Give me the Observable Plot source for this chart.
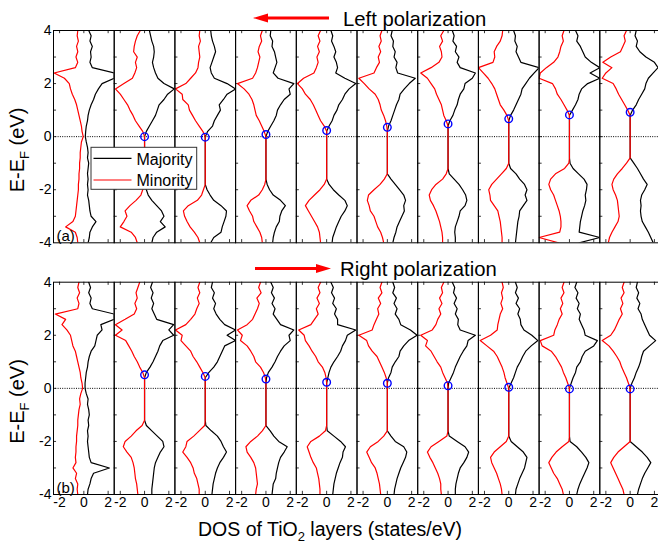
<!DOCTYPE html>
<html><head><meta charset="utf-8">
<script src="https://cdn.jsdelivr.net/npm/d3@7"></script>
<script src="https://cdn.jsdelivr.net/npm/@observablehq/plot@0.6"></script>
<style>
html,body{margin:0;padding:0;background:#fff;}
#chart{position:relative;width:658px;height:544px;overflow:hidden;}
</style></head><body><div id="chart"></div>
<script>
// Energy grid (eV, E - E_F), shared by every DOS curve, top to bottom
const energy = [4,3.8,3.6,3.4,3.2,3,2.8,2.6,2.4,2.2,2,1.8,1.6,1.4,1.2,1,0.8,0.6,0.4,0.2,0,-0.2,-0.4,-0.6,-0.8,-1,-1.2,-1.4,-1.6,-1.8,-2,-2.2,-2.4,-2.6,-2.8,-3,-3.2,-3.4,-3.6,-3.8,-4];
const layers = [1,2,3,4,5,6,7,8,9,10];
const panels = ["a","b"];
const panelTags = ["(a)","(b)"];
const panelTitles = ["Left polarization","Right polarization"];
const xTicks = [-2,0,2];
const yTicks = [-4,-2,0,2,4];
const yMinor = [-3,-2,-1,0,1,2,3];

// (a) Left polarization: majority (positive) DOS per TiO2 layer
const majorityA = [
 [0.4,0.6,0.5,0.7,0.55,0.6,0.5,0.7,2.5,2.5,1.5,1.2,0.95,0.8,0.6,0.45,0.35,0.3,0.2,0.15,0.12, 0.2,0.3,0.35,0.3,0.4,0.35,0.3,0.35,0.3,0.35,0.3,0.4,0.45,0.5,0.6,1.0,0.7,0.5,0.45,0.35],
 [0.4,0.5,0.6,0.75,0.8,0.75,0.65,0.75,0.9,1.1,1.6,2.45,1.9,1.6,1.2,1.05,0.9,0.65,0.4,0.15,0, 0,0,0,0,0,0,0,0,0,0.15,0.3,0.6,1.0,1.4,1.6,1.3,1.7,1.0,0.7,0.6],
 [0.45,0.5,0.6,0.75,0.85,0.7,0.55,0.4,0.5,0.75,1.8,2.5,1.8,1.5,1.15,1.25,1.0,0.75,0.6,0.2,0, 0,0,0,0,0,0,0,0,0,0.15,0.4,0.7,1.3,1.75,1.7,1.55,1.4,1.3,0.7,0.45],
 [0.4,0.35,0.55,0.5,0.7,0.8,0.9,0.75,0.6,1.0,2.3,1.9,2.0,1.5,1.2,0.95,0.85,0.65,0.4,0.15,0, 0,0,0,0,0,0,0,0,0.1,0.3,0.6,1.2,1.6,1.3,1.15,1.1,0.85,0.7,0.6,0.55],
 [0.35,0.5,0.4,0.6,0.75,0.6,0.8,0.9,0.75,1.5,2.4,1.85,1.5,1.3,1.0,0.85,0.6,0.45,0.2,0,0, 0,0,0,0,0,0,0,0,0.2,0.55,1.0,1.5,1.7,1.5,1.2,1.0,0.8,0.65,0.5,0.45],
 [0.4,0.3,0.5,0.45,0.65,0.55,0.8,0.7,0.85,2.3,1.8,1.4,1.05,0.95,0.75,0.6,0.45,0.3,0.1,0,0, 0,0,0,0,0,0,0,0.3,0.65,1.0,1.35,1.5,1.35,1.4,1.2,1.0,0.8,0.7,0.55,0.45],
 [0.35,0.5,0.4,0.7,0.6,0.9,0.75,1.0,2.25,2.0,1.4,1.3,1.0,0.85,0.75,0.55,0.4,0.15,0,0,0, 0,0,0,0,0,0,0.1,0.5,0.9,1.2,1.45,1.55,1.4,1.0,0.9,0.75,0.6,0.55,0.6,0.6],
 [0.4,0.55,0.5,0.7,0.6,0.8,1.0,2.5,2.1,1.7,1.4,1.1,1.0,0.8,0.6,0.4,0.15,0,0,0,0, 0,0,0,0,0,0.15,0.6,0.9,1.3,1.5,1.35,1.5,1.2,0.9,0.85,0.75,0.7,0.65,0.6,0.55],
 [0.5,0.7,0.6,0.9,1.1,1.3,1.8,2.5,1.7,2.5,1.5,1.0,0.8,0.7,0.5,0.25,0,0,0,0,0, 0,0,0,0,0.05,0.3,0.75,1.2,1.45,1.4,1.3,1.35,1.25,1.1,1.0,0.9,0.85,0.8,2.5,0.8],
 [0.5,0.4,0.6,0.5,0.8,1.3,2.0,2.3,1.9,1.5,1.3,1.2,0.95,0.7,0.5,0.2,0,0,0,0,0, 0,0,0,0,0.3,0.6,0.85,1.1,1.4,1.2,0.95,0.85,0.9,0.85,0.9,1.0,1.25,1.5,1.7,1.9]
];
// (a) minority (negative) DOS
const minorityA = [
 [-0.5,-0.55,-0.45,-0.6,-0.5,-0.65,-0.5,-0.7,-2.45,-1.6,-1.2,-1.1,-0.95,-0.75,-0.6,-0.5,-0.4,-0.3,-0.2,-0.15,-0.05, -0.2,-0.25,-0.3,-0.3,-0.35,-0.35,-0.4,-0.4,-0.45,-0.45,-0.5,-0.55,-0.6,-0.65,-0.7,-0.9,-1.5,-0.7,-0.55,-0.5],
 [-0.35,-0.6,-0.75,-0.85,-0.9,-0.6,-0.75,-0.65,-0.8,-1.0,-1.7,-2.4,-2.0,-1.7,-1.4,-1.2,-0.95,-0.75,-0.45,-0.15,0, 0,0,0,0,0,0,0,0,0,-0.15,-0.3,-0.7,-1.2,-1.6,-1.45,-1.7,-2.0,-1.1,-0.75,-0.6],
 [-0.45,-0.5,-0.4,-0.55,-0.5,-0.45,-0.55,-0.6,-0.8,-1.2,-1.6,-2.45,-1.9,-1.85,-1.4,-1.3,-1.05,-0.8,-0.5,-0.2,0, 0,0,0,0,0,0,0,0,0,-0.15,-0.3,-0.65,-1.4,-1.8,-1.7,-1.5,-1.25,-0.9,-0.6,-0.45],
 [-0.3,-0.45,-0.35,-0.55,-0.65,-0.5,-0.6,-0.7,-0.85,-1.1,-2.35,-1.8,-1.4,-1.15,-1.0,-0.9,-0.8,-0.55,-0.35,-0.15,0, 0,0,0,0,0,0,0,0,-0.1,-0.3,-0.6,-1.25,-1.55,-1.35,-1.1,-1.0,-0.75,-0.5,-0.35,-0.3],
 [-0.5,-0.7,-0.55,-0.75,-0.6,-0.8,-0.7,-0.85,-1.05,-1.9,-2.4,-2.0,-1.75,-1.35,-1.1,-0.9,-0.7,-0.5,-0.2,0,0, 0,0,0,0,0,0,0,0,-0.2,-0.55,-1.0,-1.45,-1.75,-1.5,-1.25,-1.0,-0.75,-0.6,-0.55,-0.5],
 [-0.45,-0.6,-0.5,-0.7,-0.55,-0.75,-0.65,-0.9,-1.1,-2.35,-1.9,-1.5,-1.0,-0.75,-0.6,-0.5,-0.3,-0.15,-0.05,0,0, 0,0,0,0,0,0,0,-0.25,-0.6,-1.1,-1.55,-1.65,-1.5,-1.4,-1.1,-0.95,-0.8,-0.55,-0.4,-0.3],
 [-0.35,-0.6,-0.45,-0.7,-0.55,-0.5,-0.75,-1.4,-2.25,-1.7,-1.4,-1.1,-0.95,-0.75,-0.55,-0.45,-0.35,-0.15,0,0,0, 0,0,0,0,0,0,-0.15,-0.45,-1.0,-1.35,-1.55,-1.45,-1.2,-1.0,-0.85,-0.7,-0.6,-0.5,-0.45,-0.45],
 [-0.5,-0.55,-0.7,-1.0,-1.2,-1.15,-1.3,-2.5,-2.1,-1.7,-1.4,-1.15,-1.0,-0.85,-0.7,-0.4,-0.15,0,0,0,0, 0,0,0,0,0,-0.2,-0.6,-1.0,-1.4,-1.65,-1.55,-1.5,-1.2,-0.9,-0.8,-0.7,-0.65,-0.6,-0.55,-0.55],
 [-0.45,-0.6,-0.5,-0.7,-0.8,-0.95,-1.3,-1.9,-2.4,-2.5,-1.4,-1.15,-1.0,-0.7,-0.45,-0.2,0,0,0,0,0, 0,0,0,0,-0.05,-0.4,-1.15,-1.55,-1.7,-1.55,-1.3,-1.15,-1.0,-0.85,-0.75,-0.7,-0.7,-0.8,-2.5,-0.9],
 [-0.3,-0.5,-0.4,-0.6,-0.8,-1.6,-2.25,-1.5,-2.0,-2.3,-1.4,-1.15,-0.95,-0.7,-0.45,-0.2,0,0,0,0,0, 0,0,0,0,-0.3,-0.65,-1.05,-1.35,-1.5,-1.4,-1.2,-1.05,-1.0,-0.95,-0.9,-1.0,-1.25,-1.5,-1.7,-1.8]
];
// (b) Right polarization: majority DOS
const majorityB = [
 [0.4,0.55,0.4,0.6,0.5,0.7,2.5,2.5,1.4,1.5,1.1,1.0,0.9,0.6,0.45,0.35,0.3,0.2,0.15,0.1,0.1, 0.2,0.35,0.3,0.4,0.45,0.35,0.4,0.3,0.35,0.3,0.35,0.4,0.45,0.6,2.1,0.8,0.6,0.5,0.35,0.3],
 [0.65,0.5,0.7,0.55,0.75,0.6,0.8,1.0,2.4,2.0,2.4,1.5,1.25,1.1,0.9,0.7,0.45,0.15,0,0,0, 0,0,0,0,0,0,0.15,0.6,1.05,1.5,1.6,1.3,1.1,0.9,0.8,0.75,0.7,0.65,0.6,0.6],
 [0.6,0.5,0.75,0.6,0.85,0.7,0.9,1.2,1.6,2.5,1.8,2.5,1.6,1.4,1.2,1.0,0.7,0.3,0,0,0, 0,0,0,0,0,0,0.05,0.5,1.0,1.3,1.5,1.75,1.5,1.2,1.0,0.85,0.75,0.65,0.6,0.55],
 [0.4,0.6,0.45,0.7,0.5,0.75,0.6,0.9,1.2,2.3,1.9,2.0,1.5,1.2,0.95,0.75,0.5,0.2,0.05,0,0, 0,0,0,0,0,0,0,0.35,0.65,1.05,1.75,1.5,1.2,1.05,0.95,0.85,0.8,0.6,0.55,0.5],
 [0.35,0.55,0.4,0.65,0.5,0.8,0.65,0.9,0.9,2.4,1.7,1.55,1.3,1.15,0.9,0.6,0.35,0.2,0.1,0,0, 0,0,0,0,0,0,0,0.05,0.6,1.15,1.55,1.35,1.3,1.1,0.95,0.8,0.7,0.6,0.55,0.5],
 [0.45,0.6,0.45,0.75,0.55,0.8,0.65,0.95,1.1,1.9,2.45,1.75,1.35,1.05,0.95,0.65,0.4,0.3,0.1,0,0, 0,0,0,0,0,0,0,0,0.3,0.65,1.35,1.6,1.5,1.3,1.1,0.95,0.8,0.7,0.6,0.55],
 [0.35,0.55,0.45,0.7,0.5,0.75,0.6,0.85,0.8,1.0,2.25,1.65,1.55,1.25,1.0,0.8,0.6,0.45,0.25,0.05,0, 0,0,0,0,0,0,0,0,0.1,0.75,1.4,1.7,1.55,1.3,1.0,0.85,0.75,0.65,0.6,0.6],
 [0.55,0.7,0.55,0.8,0.6,0.9,0.75,0.95,1.0,1.25,1.9,2.4,1.85,1.4,1.15,0.95,0.7,0.55,0.4,0.2,0, 0,0,0,0,0,0,0,0,0,0.2,0.7,1.2,1.5,1.4,1.3,1.1,0.9,0.75,0.6,0.55],
 [0.6,0.45,0.7,0.55,0.8,0.65,0.9,0.8,1.0,1.2,1.3,2.3,2.0,1.3,1.05,0.9,0.6,0.5,0.3,0.15,0, 0,0,0,0,0,0,0,0,0,0.05,0.6,1.0,1.35,1.6,1.45,1.25,1.05,0.85,0.7,0.6],
 [0.6,0.5,0.7,0.55,0.8,0.65,0.9,1.0,1.2,1.4,1.6,2.1,1.6,1.1,0.95,0.85,0.7,0.5,0.35,0.15,0, 0,0,0,0,0,0,0,0,0,0,0.5,1.0,1.4,1.7,1.45,1.2,1.0,0.85,0.7,0.6]
];
// (b) minority DOS
const minorityB = [
 [-0.4,-0.5,-0.35,-0.55,-0.4,-0.5,-2.35,-1.5,-1.8,-1.4,-1.1,-1.0,-0.9,-0.7,-0.6,-0.5,-0.4,-0.3,-0.25,-0.15,-0.1, -0.25,-0.35,-0.3,-0.4,-0.45,-0.5,-0.5,-0.55,-0.6,-0.6,-0.65,-0.65,-0.7,-0.65,-0.9,-0.6,-0.7,-0.5,-0.55,-0.5],
 [-0.4,-0.55,-0.7,-0.6,-0.8,-0.65,-0.85,-1.6,-2.4,-1.85,-2.4,-1.55,-1.3,-1.05,-0.85,-0.6,-0.4,-0.15,0,0,0, 0,0,0,0,0,0,-0.2,-0.7,-1.1,-1.6,-1.75,-1.45,-1.1,-0.95,-0.85,-0.8,-0.75,-0.65,-0.6,-0.55],
 [-0.45,-0.6,-0.45,-0.65,-0.5,-0.7,-0.85,-1.2,-1.6,-2.45,-1.9,-2.0,-1.6,-1.2,-1.0,-0.7,-0.45,-0.2,0,0,0, 0,0,0,0,0,0,-0.05,-0.5,-0.95,-1.5,-1.6,-1.85,-1.5,-1.2,-1.0,-0.9,-0.7,-0.6,-0.5,-0.5],
 [-0.45,-0.6,-0.4,-0.75,-0.55,-0.7,-0.9,-1.1,-1.55,-2.35,-1.95,-2.1,-1.55,-1.25,-1.0,-0.85,-0.45,-0.2,-0.05,0,0, 0,0,0,0,0,0,0,-0.3,-0.7,-1.25,-1.65,-1.55,-1.25,-1.0,-0.85,-0.8,-0.75,-0.7,-0.8,-0.85],
 [-0.5,-0.7,-0.55,-0.8,-0.6,-0.85,-0.7,-1.0,-1.3,-2.3,-1.85,-1.75,-1.45,-1.2,-0.9,-0.7,-0.35,-0.15,-0.05,0,0, 0,0,0,0,0,0,0,-0.1,-0.6,-1.3,-1.6,-1.45,-1.3,-1.1,-0.85,-0.75,-0.65,-0.6,-0.55,-0.55],
 [-0.45,-0.6,-0.45,-0.75,-0.55,-0.8,-0.7,-0.9,-1.1,-1.25,-2.35,-1.7,-1.55,-1.25,-0.85,-0.65,-0.45,-0.25,-0.1,0,0, 0,0,0,0,0,0,0,0,-0.3,-0.75,-1.4,-1.7,-1.5,-1.3,-1.0,-0.85,-0.75,-0.65,-0.6,-0.55],
 [-0.35,-0.55,-0.45,-0.7,-0.5,-0.75,-0.6,-0.85,-1.0,-1.3,-2.25,-1.7,-1.85,-1.4,-1.15,-0.9,-0.6,-0.45,-0.25,-0.05,0, 0,0,0,0,0,0,0,0,-0.1,-0.75,-1.4,-1.7,-1.5,-1.25,-1.05,-0.85,-0.7,-0.6,-0.6,-0.55],
 [-0.55,-0.45,-0.6,-0.5,-0.65,-0.5,-0.7,-0.8,-0.9,-0.95,-1.5,-2.35,-1.8,-1.25,-0.95,-0.75,-0.55,-0.4,-0.3,-0.15,0, 0,0,0,0,0,0,0,0,0,-0.2,-0.7,-1.2,-1.5,-1.4,-1.2,-1.0,-0.85,-0.7,-0.6,-0.55],
 [-0.45,-0.6,-0.45,-0.7,-0.55,-0.75,-0.6,-0.85,-1.0,-1.2,-1.3,-2.4,-2.25,-1.5,-1.15,-0.9,-0.65,-0.5,-0.3,-0.15,0, 0,0,0,0,0,0,0,0,0,-0.05,-0.6,-1.1,-1.45,-1.7,-1.5,-1.3,-1.0,-0.8,-0.6,-0.5],
 [-0.5,-0.65,-0.5,-0.75,-0.6,-0.8,-0.65,-0.9,-1.1,-1.3,-1.6,-2.3,-1.75,-1.4,-1.1,-0.85,-0.7,-0.5,-0.3,-0.15,0, 0,0,0,0,0,0,0,0,0,0,-0.5,-1.0,-1.35,-1.6,-1.4,-1.2,-1.0,-0.8,-0.6,-0.5]
];
// Band-edge markers (blue circles) per layer, eV; layer 1 has none
const edgeA = [null, 0, -0.02, 0.08, 0.23, 0.35, 0.48, 0.67, 0.82, 0.92];
const edgeB = [null, 0.51, 0.45, 0.35, 0.23, 0.19, 0.1, 0.04, -0.02, -0.02];

const sets = {a: {maj: majorityA, min: minorityA, edge: edgeA}, b: {maj: majorityB, min: minorityB, edge: edgeB}};
for (const p of panels) for (const s of ["maj","min"]) sets[p][s].forEach((arr, i) => {
  if (arr.length !== energy.length) throw new Error(`${p}.${s}[${i}] has ${arr.length} values`);
});

const rows = [];
const edges = [];
for (const p of panels) {
  layers.forEach((layer, i) => {
    for (const spin of ["maj","min"]) {
      energy.forEach((e, j) => rows.push({panel: p, layer, spin, e, dos: sets[p][spin][i][j]}));
    }
    if (sets[p].edge[i] !== null) edges.push({panel: p, layer, e: sets[p].edge[i]});
  });
}
const tags = panels.map((p, i) => ({panel: p, layer: layers[0], label: panelTags[i]}));

const FONT = "'Liberation Sans', Arial, Helvetica, sans-serif";
const plot = Plot.plot({
  width: 658, height: 544,
  marginTop: 30, marginBottom: 50, marginLeft: 53, marginRight: -2,
  style: {fontFamily: FONT, fontSize: "14px", color: "black", background: "white"},
  fx: {domain: layers, paddingInner: 0, paddingOuter: 0, round: false, axis: null, label: null},
  fy: {domain: panels, paddingInner: 0.1565, paddingOuter: 0, round: false, axis: null, label: null},
  x: {domain: [-2.5, 2.5], ticks: xTicks, tickSize: 0, tickPadding: 3, tickFormat: d => String(d), label: null},
  y: {domain: [-4, 4], ticks: yTicks, tickSize: 0, tickPadding: 2, tickFormat: d => String(d), label: null},
  marks: [
    Plot.ruleY([0], {stroke: "black", strokeWidth: 1, strokeDasharray: "1,1.3"}),
    Plot.ruleY(yMinor, {x1: -2.5, x2: -2.25, stroke: "black", strokeWidth: 0.8}),
    Plot.ruleX(xTicks, {y1: -4, y2: -3.88, stroke: "black", strokeWidth: 0.8}),
    Plot.ruleX(xTicks, {y1: 4, y2: 3.88, stroke: "black", strokeWidth: 0.8}),
    Plot.line(rows.filter(d => d.spin === "maj"), {x: "dos", y: "e", fx: "layer", fy: "panel", stroke: "black", strokeWidth: 1.2, clip: true}),
    Plot.line(rows.filter(d => d.spin === "min"), {x: "dos", y: "e", fx: "layer", fy: "panel", stroke: "#ff0000", strokeWidth: 1.2, clip: true}),
    Plot.dot(edges, {x: () => 0, y: "e", fx: "layer", fy: "panel", r: 3.8, stroke: "#0000ff", strokeWidth: 1.4, fill: "none"}),
    Plot.text(tags, {fx: "layer", fy: "panel", text: "label", frameAnchor: "bottom-left", dx: 3, dy: -2, fontSize: 15}),
    Plot.frame({stroke: "black", strokeWidth: 1})
  ]
});

const svg = d3.select(plot);
const deco = svg.append("g").attr("font-family", FONT).attr("fill", "black").attr("text-anchor", "start");

// Panel titles with polarization arrows
deco.append("text").attr("x", 343).attr("y", 26).attr("font-size", 20.3).text(panelTitles[0]);
deco.append("text").attr("x", 340).attr("y", 276).attr("font-size", 20.3).text(panelTitles[1]);
deco.append("line").attr("x1", 267).attr("x2", 329).attr("y1", 18).attr("y2", 18).attr("stroke", "#ff0000").attr("stroke-width", 2.8);
deco.append("path").attr("d", "M253,18 L268,13.5 L268,22.5 Z").attr("fill", "#ff0000");
deco.append("line").attr("x1", 255).attr("x2", 317).attr("y1", 268.5).attr("y2", 268.5).attr("stroke", "#ff0000").attr("stroke-width", 2.8);
deco.append("path").attr("d", "M331,268.5 L316,264 L316,273 Z").attr("fill", "#ff0000");

// Y axis titles: E-E_F (eV)
[150, 401.5].forEach(cy => {
  const t = deco.append("text").attr("transform", `translate(23.5,${cy}) rotate(-90)`).attr("text-anchor", "middle").attr("font-size", 20);
  t.append("tspan").text("E-E");
  t.append("tspan").attr("dy", 5).attr("font-size", 13).text("F");
  t.append("tspan").attr("dy", -5).text(" (eV)");
});

// X axis title: DOS of TiO2 layers (states/eV)
{
  const t = deco.append("text").attr("x", 330).attr("y", 536).attr("text-anchor", "middle").attr("font-size", 19.5);
  t.append("tspan").text("DOS of TiO");
  t.append("tspan").attr("dy", 5).attr("font-size", 13).text("2");
  t.append("tspan").attr("dy", -5).text(" layers (states/eV)");
}

// Legend
const lg = deco.append("g");
lg.append("rect").attr("x", 91).attr("y", 147.3).attr("width", 105.7).attr("height", 42).attr("fill", "white").attr("stroke", "#333").attr("stroke-width", 1);
lg.append("line").attr("x1", 93.5).attr("x2", 131.5).attr("y1", 158.3).attr("y2", 158.3).attr("stroke", "black").attr("stroke-width", 1.2);
lg.append("line").attr("x1", 93.5).attr("x2", 131.5).attr("y1", 180).attr("y2", 180).attr("stroke", "#ff0000").attr("stroke-width", 1.2);
lg.append("text").attr("x", 136.5).attr("y", 164.5).attr("font-size", 16).text("Majority");
lg.append("text").attr("x", 136.5).attr("y", 186.3).attr("font-size", 16).text("Minority");

document.getElementById("chart").appendChild(plot);
</script></body></html>
